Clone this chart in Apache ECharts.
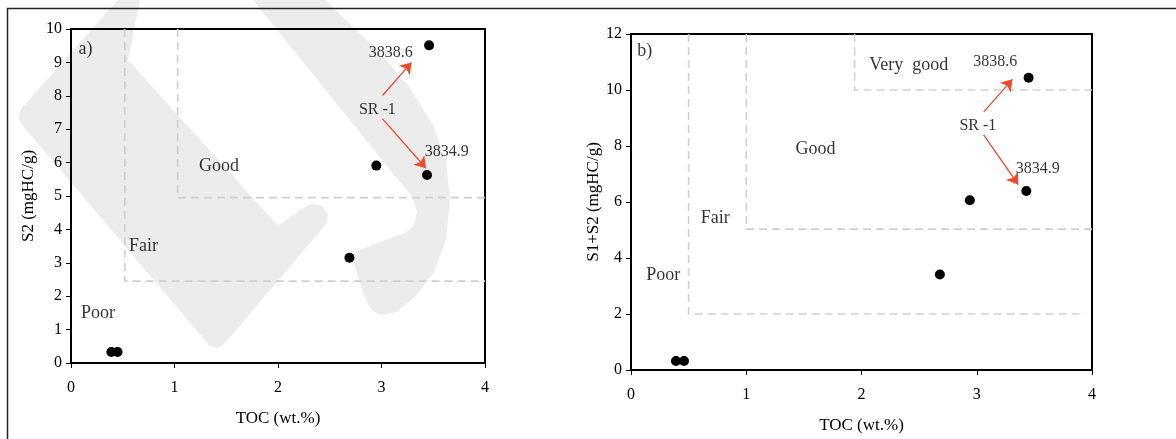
<!DOCTYPE html>
<html><head><meta charset="utf-8">
<script src="https://cdn.jsdelivr.net/npm/echarts@6/dist/echarts.min.js"></script>
<style>html,body{margin:0;padding:0;background:#fff}#c{width:1176px;height:439px}</style>
</head><body><div id="c"></div>
<script>
// ---- data ----
const xTickValues = [0, 1, 2, 3, 4];
const tocA = [0.39, 0.45, 2.69, 2.95, 3.44, 3.46];
const s2A = [0.33, 0.33, 3.15, 5.91, 5.63, 9.51];
const tocB = [0.39, 0.46, 2.68, 2.94, 3.43, 3.45];
const s1s2B = [0.32, 0.32, 3.41, 6.06, 6.39, 10.44];

// class boundaries (TOC, value)
const fairA = [[0.52, 10], [0.52, 2.45], [4, 2.45]];
const goodA = [[1.03, 10], [1.03, 4.95], [4, 4.95]];
const fairB = [[0.5, 12], [0.5, 2.0], [3.94, 2.0]];
const goodB = [[1.0, 12], [1.0, 5.03], [4, 5.03]];
const vgoodB = [[1.94, 12], [1.94, 10.0], [4, 10.0]];

// annotations
const labelTextA = ['a)', 'Poor', 'Fair', 'Good', 'SR -1', '3838.6', '3834.9'];
const labelXA = [0.14, 0.26, 0.70, 1.43, 2.96, 3.09, 3.63];
const labelYA = [9.4, 1.48, 3.5, 5.88, 7.58, 9.3, 6.33];
const labelTextB = ['b)', 'Poor', 'Fair', 'Good', 'Very  good', 'SR -1', '3838.6', '3834.9'];
const labelXB = [0.12, 0.28, 0.73, 1.6, 2.41, 3.01, 3.16, 3.53];
const labelYB = [11.4, 3.37, 5.43, 7.89, 10.9, 8.72, 11.0, 7.17];

const arrowsA = [[[3.01, 8.01], [3.29, 9.0]], [[3.01, 7.31], [3.43, 5.83]]];
const arrowsB = [[[3.06, 9.22], [3.31, 10.38]], [[3.06, 8.40], [3.36, 6.62]]];

// ---- chart ----
const FONT = '"Liberation Serif", "Times New Roman", serif';
const INK = '#000';
const chart = echarts.init(document.getElementById('c'), null, {renderer: 'canvas'});

function xAxis(idx) {
  return {
    gridIndex: idx, type: 'value', min: 0, max: 4, interval: 1,
    name: 'TOC (wt.%)', nameLocation: 'middle', nameGap: 47,
    nameTextStyle: {fontFamily: FONT, fontSize: 17, color: INK},
    axisLine: {show: true, onZero: false, lineStyle: {color: '#000', width: 2}},
    axisTick: {show: true, inside: false, length: 5, lineStyle: {color: '#000', width: 1}},
    axisLabel: {fontFamily: FONT, fontSize: 16, color: INK, margin: 17},
    splitLine: {show: false}
  };
}
function yAxis(idx, max, interval, name, gap) {
  return {
    gridIndex: idx, type: 'value', min: 0, max: max, interval: interval,
    name: name, nameLocation: 'middle', nameGap: gap, nameRotate: 90,
    nameTextStyle: {fontFamily: FONT, fontSize: 17, color: INK},
    axisLine: {show: true, onZero: false, lineStyle: {color: '#000', width: 2}},
    axisTick: {show: true, inside: false, length: 5, lineStyle: {color: '#000', width: 1}},
    axisLabel: {fontFamily: FONT, fontSize: 16, color: INK, margin: 9},
    splitLine: {show: false}
  };
}
function boundary(idx, pts) {
  return {
    type: 'line', xAxisIndex: idx, yAxisIndex: idx, data: pts, symbol: 'none',
    silent: true, z: 3, animation: false,
    lineStyle: {color: '#cfcfcf', width: 1.6, type: [8, 5]}
  };
}
function points(idx, xs, ys) {
  return {
    type: 'scatter', xAxisIndex: idx, yAxisIndex: idx, z: 5,
    data: xs.map((x, i) => [x, ys[i]]), symbol: 'circle', symbolSize: 10,
    itemStyle: {color: '#000', opacity: 1}
  };
}
function labels(idx, texts, xs, ys) {
  return {
    type: 'scatter', xAxisIndex: idx, yAxisIndex: idx, z: 6, silent: true,
    symbolSize: 1, itemStyle: {color: 'rgba(0,0,0,0)'},
    data: texts.map((t, i) => {
      const small = /^[0-9]|SR/.test(t);
      return {value: [xs[i], ys[i], t],
        label: {show: true, position: 'inside', formatter: t,
          fontFamily: FONT, fontSize: small ? 16 : 18, color: INK}};
    })
  };
}
function arrows(idx, segs) {
  return {
    type: 'lines', coordinateSystem: 'cartesian2d', xAxisIndex: idx, yAxisIndex: idx, z: 4,
    symbol: ['none', 'arrow'], symbolSize: 11, silent: true,
    lineStyle: {color: '#ec4a2c', width: 1.3, opacity: 1, curveness: 0},
    data: segs.map(s => ({coords: s}))
  };
}

// light grey watermark shapes behind the plots (decoration, page pixels)
const WM = '#ececec';
const watermark = [
  {type: 'polygon', z: -10, silent: true, style: {fill: WM},
   shape: {points: [[118,0],[140,0],[128,60],[278,226],[300,210],[312,204],[322,206],[328,215],[326,224],
     [226,342],[218,348],[209,346],[204,339],[24,127],[18,118],[21,109]]}},
  {type: 'polygon', z: -10, silent: true, style: {fill: WM},
   shape: {points: [[253,0],[325,0],[372,45],[408,85],[433,125],[446,160],[450,200],[446,240],[434,272],
     [415,297],[396,312],[381,315],[371,310],[364,295],[356,270],[352,258],[360,250],[385,240],[405,233],
     [414,226],[417,212],[412,196],[395,176]]}}
];

const option = {
  animation: false,
  backgroundColor: '#fff',
  grid: [
    {left: 71, top: 29, width: 414, height: 334, show: true, borderColor: '#000', borderWidth: 2, backgroundColor: 'transparent', z: 2},
    {left: 631, top: 34, width: 461, height: 337, show: true, borderColor: '#000', borderWidth: 2, backgroundColor: 'transparent', z: 2}
  ],
  xAxis: [xAxis(0), xAxis(1)],
  yAxis: [yAxis(0, 10, 1, 'S2 (mgHC/g)', 34), yAxis(1, 12, 2, 'S1+S2 (mgHC/g)', 29)],
  graphic: watermark.concat([
    {type: 'line', shape: {x1: 7, y1: 8.5, x2: 1176, y2: 8.5}, style: {stroke: '#222', lineWidth: 1.5}, z: 100},
    {type: 'line', shape: {x1: 7.5, y1: 8, x2: 7.5, y2: 439}, style: {stroke: '#222', lineWidth: 1.5}, z: 100}
  ]),
  series: [
    boundary(0, fairA), boundary(0, goodA),
    boundary(1, fairB), boundary(1, goodB), boundary(1, vgoodB),
    points(0, tocA, s2A), points(1, tocB, s1s2B),
    labels(0, labelTextA, labelXA, labelYA), labels(1, labelTextB, labelXB, labelYB),
    arrows(0, arrowsA), arrows(1, arrowsB)
  ]
};
chart.setOption(option);
</script></body></html>
